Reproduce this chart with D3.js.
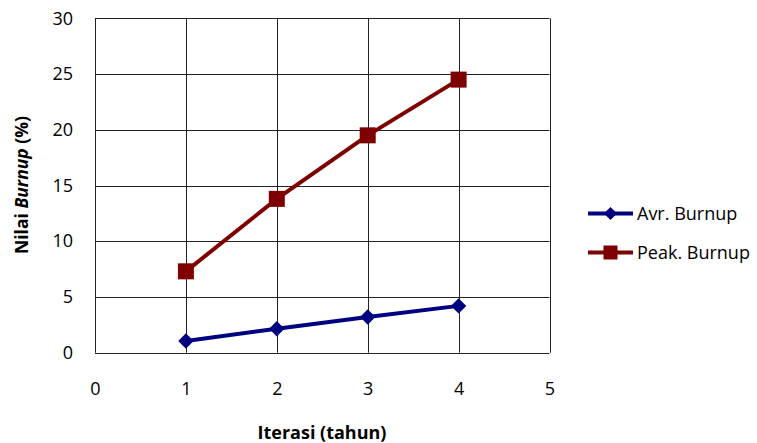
<!DOCTYPE html>
<html><head><meta charset="utf-8">
<script src="https://cdn.jsdelivr.net/npm/d3@7"></script>
<style>body{margin:0;background:#fff;} text{font-family:"Open Sans","Noto Sans",sans-serif;}</style>
</head><body>
<svg id="c" width="757" height="443"></svg>
<script>
const iterations = [1, 2, 3, 4];
const avrBurnup = [1.05, 2.15, 3.2, 4.2];
const peakBurnup = [7.3, 13.8, 19.5, 24.5];
const xTicks = [0, 1, 2, 3, 4, 5];
const yTicks = [0, 5, 10, 15, 20, 25, 30];
const seriesNames = ["Avr. Burnup", "Peak. Burnup"];

const svg = d3.select("#c");
const x = d3.scaleLinear().domain([0, 5]).range([95, 549.5]);
const y = d3.scaleLinear().domain([0, 30]).range([352.7, 18.3]);

const grid = svg.append("g");
grid.selectAll("line.h").data(yTicks).join("line")
  .attr("x1", x(0)).attr("x2", x(5))
  .attr("y1", d => Math.round(y(d)) + 0.5).attr("y2", d => Math.round(y(d)) + 0.5)
  .attr("stroke", "#222").attr("stroke-width", 1);
grid.selectAll("line.v").data(xTicks).join("line")
  .attr("y1", y(0)).attr("y2", y(30))
  .attr("x1", d => Math.round(x(d)) + 0.5).attr("x2", d => Math.round(x(d)) + 0.5)
  .attr("stroke", "#222").attr("stroke-width", 1);

const yAxis = d3.axisLeft(y).tickValues(yTicks).tickFormat(d3.format("d")).tickSize(0).tickPadding(0);
svg.append("g").attr("transform", "translate(73,0)").call(yAxis)
  .call(g => g.select(".domain").remove())
  .selectAll("text").attr("font-size", 18).attr("fill", "#000")
  .attr("font-family", "'Open Sans','Noto Sans',sans-serif");

const xAxis = d3.axisBottom(x).tickValues(xTicks).tickFormat(d3.format("d")).tickSize(0).tickPadding(0);
svg.append("g").attr("transform", "translate(0,382)").call(xAxis)
  .call(g => g.select(".domain").remove())
  .selectAll("text").attr("font-size", 18).attr("fill", "#000")
  .attr("font-family", "'Open Sans','Noto Sans',sans-serif");

const line = d3.line().x((d, i) => x(iterations[i])).y(d => y(d));
const avrColor = "#000080", peakColor = "#7f0000";

svg.append("path").datum(avrBurnup).attr("d", line)
  .attr("fill", "none").attr("stroke", avrColor).attr("stroke-width", 4);
svg.append("path").datum(peakBurnup).attr("d", line)
  .attr("fill", "none").attr("stroke", peakColor).attr("stroke-width", 4);

const diamond = d3.symbol().type(d3.symbolDiamond2).size(150);
svg.selectAll("path.avr").data(avrBurnup).join("path")
  .attr("transform", (d, i) => `translate(${x(iterations[i])},${y(d)})`)
  .attr("d", diamond).attr("fill", avrColor);
svg.selectAll("rect.peak").data(peakBurnup).join("rect")
  .attr("x", (d, i) => x(iterations[i]) - 8).attr("y", d => y(d) - 8)
  .attr("width", 16).attr("height", 16).attr("fill", peakColor);

// legend
const leg = [
  {name: seriesNames[0], color: avrColor, y: 213.5, sym: "d"},
  {name: seriesNames[1], color: peakColor, y: 252.5, sym: "s"}
];
leg.forEach(l => {
  svg.append("line").attr("x1", 588).attr("x2", 633).attr("y1", l.y).attr("y2", l.y)
    .attr("stroke", l.color).attr("stroke-width", 4);
  if (l.sym === "d") {
    svg.append("path").attr("transform", `translate(610.5,${l.y})`)
      .attr("d", d3.symbol().type(d3.symbolDiamond2).size(110)).attr("fill", l.color);
  } else {
    svg.append("rect").attr("x", 603.5).attr("y", l.y - 7).attr("width", 14).attr("height", 14).attr("fill", l.color);
  }
  svg.append("text").attr("x", 637).attr("y", l.y).attr("dy", "0.35em")
    .attr("font-size", 18).attr("fill", "#000").text(l.name);
});

// axis titles
svg.append("text").attr("x", 322).attr("y", 439).attr("text-anchor", "middle")
  .attr("font-size", 18).attr("font-weight", "bold").text("Iterasi (tahun)");
const yt = svg.append("text").attr("transform", "translate(28,185) rotate(-90)")
  .attr("text-anchor", "middle").attr("font-size", 17.5).attr("font-weight", "bold");
yt.append("tspan").text("Nilai ");
yt.append("tspan").attr("font-style", "italic").text("Burnup");
yt.append("tspan").text(" (%)");
</script>
</body></html>
